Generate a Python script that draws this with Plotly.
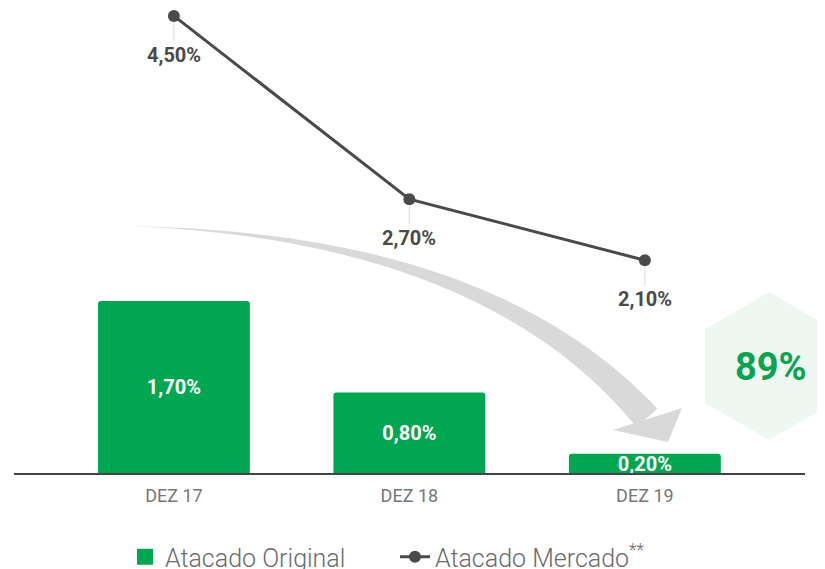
import numpy as np
import plotly.graph_objects as go

# dados
categorias = ["DEZ 17", "DEZ 18", "DEZ 19"]
atacado_original = [1.70, 0.80, 0.20]
atacado_mercado = [4.50, 2.70, 2.10]
reducao = "89%"

VERDE = "#00a651"
CINZA_LINHA = "#4a4a4a"

# layout em pixels; a página tem 8px de margem no body
W, H = 825, 569
OFF = 8
L, R, T, B = 6, 28, 0, 103
PW, PH = W - L - R, H - T - B


def px2paper(px, py):
    # pixel da tela (já com a margem do body) -> coordenada paper
    return (px - OFF - L) / PW, (H - B - (py - OFF)) / PH


def path_from(points, close=True):
    s = ""
    for i, (px, py) in enumerate(points):
        x, y = px2paper(px, py)
        s += ("M" if i == 0 else "L") + f"{x:.5f},{y:.5f} "
    return s + ("Z" if close else "")


def fmt(v):
    return f"{v:.2f}".replace(".", ",") + "%"


fig = go.Figure()

# só para a legenda (quadrado maior que o símbolo padrão de barra)
fig.add_trace(go.Scatter(
    x=[None], y=[None], mode="markers", name="Atacado Original",
    marker=dict(color=VERDE, symbol="square", size=16),
    hoverinfo="skip",
))

fig.add_trace(go.Bar(
    x=categorias,
    y=atacado_original,
    name="Atacado Original",
    showlegend=False,
    marker=dict(color=VERDE, line=dict(width=0)),
    width=0.645,
    text=[fmt(v) for v in atacado_original],
    textposition="inside",
    insidetextanchor="middle",
    constraintext="none",
    textfont=dict(family="Roboto", size=20, color="white", weight="bold"),
    hoverinfo="skip",
))

fig.add_trace(go.Scatter(
    x=categorias,
    y=atacado_mercado,
    name="Atacado Mercado<sup>**</sup>",
    mode="lines+markers",
    line=dict(color=CINZA_LINHA, width=3),
    marker=dict(color=CINZA_LINHA, size=12),
    hoverinfo="skip",
))

# rótulos da linha com conector cinza claro
for c, v in zip(categorias, atacado_mercado):
    fig.add_annotation(
        x=c, y=v, xref="x", yref="y",
        text=fmt(v),
        showarrow=True, arrowhead=0, arrowwidth=1, arrowcolor="#dcdcdc",
        ax=0, ay=39, standoff=6,
        font=dict(family="Roboto", size=20, color=CINZA_LINHA, weight="bold"),
    )

# seta curva cinza (decorativa)
p0 = np.array([115.0, 226.0])
pc = np.array([484.0, 232.0])
p2 = np.array([647.0, 418.0])
t = np.linspace(0, 1, 60)
curva = ((1 - t) ** 2)[:, None] * p0 + (2 * (1 - t) * t)[:, None] * pc + (t ** 2)[:, None] * p2
deriv = (2 * (1 - t))[:, None] * (pc - p0) + (2 * t)[:, None] * (p2 - pc)
nrm = np.stack([-deriv[:, 1], deriv[:, 0]], axis=1)
nrm = nrm / np.linalg.norm(nrm, axis=1)[:, None]
larg = 28 * t ** 1.3
lado_a = curva + nrm * (larg / 2)[:, None]
lado_b = curva - nrm * (larg / 2)[:, None]
corpo = list(map(tuple, lado_a)) + list(map(tuple, lado_b[::-1]))

shapes = [
    dict(type="path", xref="paper", yref="paper", path=path_from(corpo),
         fillcolor="#d9d9d9", line=dict(width=0), layer="below"),
    dict(type="path", xref="paper", yref="paper",
         path=path_from([(613, 430), (682, 408), (668, 442)]),
         fillcolor="#d9d9d9", line=dict(width=0), layer="below"),
]

# hexágono
cx, cy, rv = 769, 366, 74
hexa = [(cx + rv * np.cos(np.radians(a)), cy - rv * np.sin(np.radians(a)))
        for a in [90, 150, 210, 270, 330, 30]]
shapes.append(dict(type="path", xref="paper", yref="paper", path=path_from(hexa),
                   fillcolor="#eef7f0", line=dict(width=0), layer="below"))

# linha do eixo
x0, y0 = px2paper(14, 474)
x1, _ = px2paper(805, 474)
shapes.append(dict(type="line", xref="paper", yref="paper", x0=x0, x1=x1, y0=y0, y1=y0,
                   line=dict(color="#444444", width=2), layer="above"))

hx, hy = px2paper(771, 367)
fig.add_annotation(
    x=hx, y=hy, xref="paper", yref="paper", text=reducao, showarrow=False,
    xanchor="center", yanchor="middle",
    font=dict(family="Roboto", size=38, color="#0aa350", weight="bold"),
)

lx, ly = px2paper(125, 557)
fig.update_layout(
    width=W, height=H,
    margin=dict(l=L, r=R, t=T, b=B, autoexpand=False),
    paper_bgcolor="white",
    plot_bgcolor="rgba(0,0,0,0)",
    barcornerradius=3,
    shapes=shapes,
    showlegend=True,
    legend=dict(
        orientation="h", x=lx, y=ly, xanchor="left", yanchor="middle",
        font=dict(family="Roboto", size=25, color="#6b6b6b", weight=300),
        entrywidth=225, itemwidth=30,
    ),
    xaxis=dict(
        type="category", range=[-0.679, 2.68],
        showgrid=False, zeroline=False, showline=False, ticks="",
        tickfont=dict(family="Roboto", size=18, color="#777777"),
        ticklabelstandoff=9,
        fixedrange=True,
    ),
    yaxis=dict(
        range=[0, 466 / 101.8], showgrid=False, zeroline=False, showticklabels=False,
        showline=False, fixedrange=True,
    ),
)

fig.write_html("out.html")
